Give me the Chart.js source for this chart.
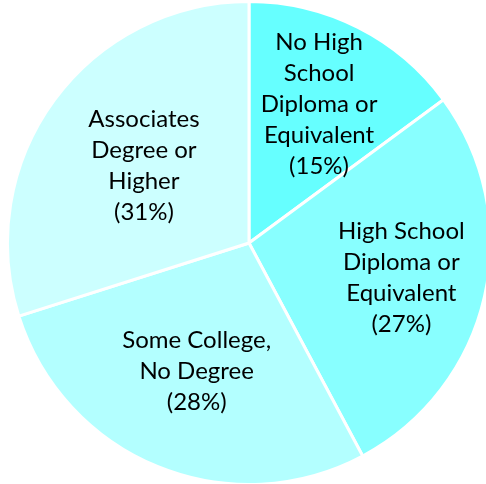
<!DOCTYPE html>
<html>
<head>
<meta charset="utf-8">
<script src="https://cdn.jsdelivr.net/npm/chart.js@4/dist/chart.umd.min.js"></script>
<style>
  html, body { margin: 0; padding: 0; background: #fff; overflow: hidden; }
</style>
</head>
<body>
<canvas id="chart_education" width="500" height="486"></canvas>
<script>
var categories = [
    ['No High', 'School', 'Diploma or', 'Equivalent'],
    ['High School', 'Diploma or', 'Equivalent'],
    ['Some College,', 'No Degree'],
    ['Associates', 'Degree or', 'Higher']
];
var shareValues = [14.9, 27.3, 27.9, 29.9];
var shareLabels = ['(15%)', '(27%)', '(28%)', '(31%)'];
var sliceColors = ['#66ffff', '#88ffff', '#b3ffff', '#ccffff'];

var chart_education = new Chart(document.getElementById('chart_education'), {
    type: 'pie',
    data: {
        labels: categories,
        datasets: [
            {
                data: shareValues,
                backgroundColor: sliceColors,
                borderColor: '#ffffff',
                borderWidth: 3
            }
        ]
    },
    options: {
        animation: false,
        responsive: false,
        events: [],
        layout: {
            padding: { left: 6, top: 0, right: 8, bottom: 0 }
        },
        plugins: {
            legend: { display: false },
            tooltip: { enabled: false },
            sliceText: {
                radius: [0.643, 0.647, 0.575, 0.539],
                lineHeight: 31
            }
        }
    },
    plugins: [{
        id: 'sliceText',
        afterDatasetsDraw: (chart, args, options) => {
            const ctx = chart.ctx;
            const arcs = chart.getDatasetMeta(0).data;
            ctx.save();
            ctx.font = '24px Lato';
            ctx.fillStyle = '#000000';
            ctx.textAlign = 'center';
            ctx.textBaseline = 'middle';
            arcs.forEach((arc, i) => {
                const p = arc.getProps(['x', 'y', 'startAngle', 'endAngle', 'outerRadius'], true);
                const mid = (p.startAngle + p.endAngle) / 2;
                const r = p.outerRadius * options.radius[i];
                const cx = p.x + Math.cos(mid) * r;
                const cy = p.y + Math.sin(mid) * r;
                const lines = categories[i].concat([shareLabels[i]]);
                const top = cy - (lines.length - 1) * options.lineHeight / 2;
                lines.forEach((line, j) => {
                    ctx.fillText(line, cx, top + j * options.lineHeight);
                });
            });
            ctx.restore();
        }
    }]
});
</script>
</body>
</html>
